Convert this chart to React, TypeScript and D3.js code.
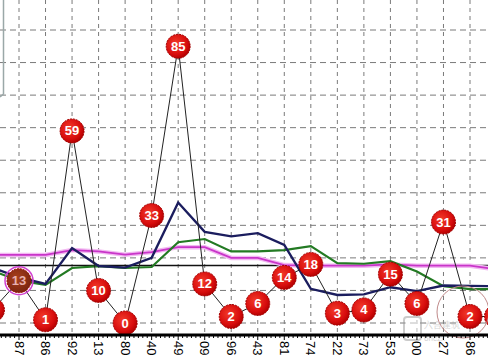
import React from "react";
import * as d3 from "d3";

// columns -1 .. 18 (first and last partly outside the view)
const labels = ["", "87", "86", "92", "13", "80", "40", "49", "09", "96", "43", "81", "74", "22", "73", "53", "00", "27", "86", ""];
const values = [4, 13, 1, 59, 10, 0, 33, 85, 12, 2, 6, 14, 18, 3, 4, 15, 6, 31, 2, 2];
const navy = [17, 14, 12, 23, 17.5, 17, 20, 37, 28, 26.6, 27.6, 24, 10.5, 8.6, 8.8, 11, 9.8, 11.5, 11.4, 11.3];
const green = [16, 13, 11.7, 16.9, 17.5, 16.9, 17.2, 24.8, 25.8, 22, 22, 22.4, 23.6, 18.4, 18.2, 19, 15.8, 11.3, 10.4, 10.4];
const magenta = [20.9, 20.9, 20.9, 22.4, 22, 21, 21.8, 23.3, 23.3, 20, 20, 17.8, 17.6, 17.6, 17.6, 18, 17.6, 17.6, 17.6, 16.5];
const avgLine = 17.7;
const gridValues = [0, 10, 20, 30, 40, 50, 60, 70, 80, 90];

const W = 488;
const H = 355;

export default function App() {
  const x = d3.scaleLinear().domain([0, 17]).range([19, 470]);
  const y = d3.scaleLinear().domain([0, 90]).range([323, 30]);
  const idx = values.map((_, i) => i - 1);
  const axisY = 335;

  const mk = (arr: number[]) =>
    d3.line<number>().x((_, i) => x(i - 1)).y((d) => y(d))(arr) || "";

  const step = x(1) - x(0);
  const minor: number[] = [];
  for (let k = -12; k <= 19 * 6; k++) minor.push(x(0) + (k * step) / 6);

  return (
    <svg width={W} height={H} style={{ position: "absolute", left: 0, top: 0, background: "#fff" }}
      fontFamily="'Liberation Sans', Arial, sans-serif">
      <defs>
        <radialGradient id="ball" cx="40%" cy="38%" r="65%">
          <stop offset="0%" stopColor="#f23a2a" />
          <stop offset="70%" stopColor="#d80d0d" />
          <stop offset="100%" stopColor="#b00000" />
        </radialGradient>
        <radialGradient id="ballDark" cx="40%" cy="38%" r="65%">
          <stop offset="0%" stopColor="#a8401c" />
          <stop offset="100%" stopColor="#7a2410" />
        </radialGradient>
      </defs>
      <rect x={0} y={0} width={W} height={H} fill="#fff" />
      {/* grid */}
      {idx.map((i) => (
        <line key={"v" + i} x1={x(i)} x2={x(i)} y1={0} y2={axisY} stroke="#7a7a7a" strokeWidth={1} strokeDasharray="4,4" />
      ))}
      {gridValues.map((g) => (
        <line key={"h" + g} x1={0} x2={W} y1={y(g)} y2={y(g)} stroke="#7a7a7a" strokeWidth={1} strokeDasharray="6,4" />
      ))}
      {/* left panel edge */}
      <path d="M3.5,0 L3.5,94 L0,97" fill="none" stroke="#9aa8a8" strokeWidth={1.5} />
      {/* average line */}
      <line x1={0} x2={W} y1={y(avgLine)} y2={y(avgLine)} stroke="#111" strokeWidth={1.5} />
      {/* moving averages */}
      <path d={mk(magenta)} fill="none" stroke="#f2b8f2" strokeWidth={4.5} />
      <path d={mk(magenta)} fill="none" stroke="#c935c9" strokeWidth={1.8} />
      <path d={mk(green)} fill="none" stroke="#237a23" strokeWidth={2.2} />
      <path d={mk(navy)} fill="none" stroke="#1b1d5e" strokeWidth={2.4} />
      {/* value polyline */}
      <path d={mk(values)} fill="none" stroke="#222" strokeWidth={1} />
      {/* watermark */}
      <g opacity={0.5}>
        <rect x={404} y={317} width={17} height={23} rx={3} fill="#fff" stroke="#999" strokeWidth={2} />
        <text x={424} y={328} fontSize={9} fill="#aaa">六合建筑</text>
        <text x={424} y={341} fontSize={8} fill="#aaa">6hczx</text>
      </g>
      {/* balls */}
      {values.map((v, k) => {
        const i = k - 1;
        const cx = x(i);
        const cy = y(v);
        const dark = i === 0;
        return (
          <g key={"b" + k}>
            <circle cx={cx} cy={cy} r={12} fill={dark ? "url(#ballDark)" : "url(#ball)"} stroke="#a00000" strokeWidth={1} strokeDasharray="2,1" />
            <text x={cx} y={cy + 4.5} textAnchor="middle" fontSize={13} fontWeight="bold" fill={dark ? "#e8b0b0" : "#fff"}>
              {v}
            </text>
            {dark && <circle cx={cx} cy={cy} r={14} fill="none" stroke="#d040d0" strokeWidth={1.5} />}
          </g>
        );
      })}
      {/* annotation circle */}
      <circle cx={463} cy={312} r={26} fill="none" stroke="#c08a8a" strokeWidth={1} />
      {/* x axis */}
      <line x1={0} x2={W} y1={axisY} y2={axisY} stroke="#000" strokeWidth={3} />
      {minor.map((m, k) => (
        <line key={"m" + k} x1={m} x2={m} y1={axisY} y2={axisY + (k % 6 === 0 ? 5 : 3)} stroke="#000" strokeWidth={1} />
      ))}
      {labels.map((l, k) => (
        <text key={"l" + k} transform={`translate(${x(k - 1) - 4.5},${axisY + 6}) rotate(90)`} fontSize={13} fill="#000">
          {l}
        </text>
      ))}
    </svg>
  );
}
